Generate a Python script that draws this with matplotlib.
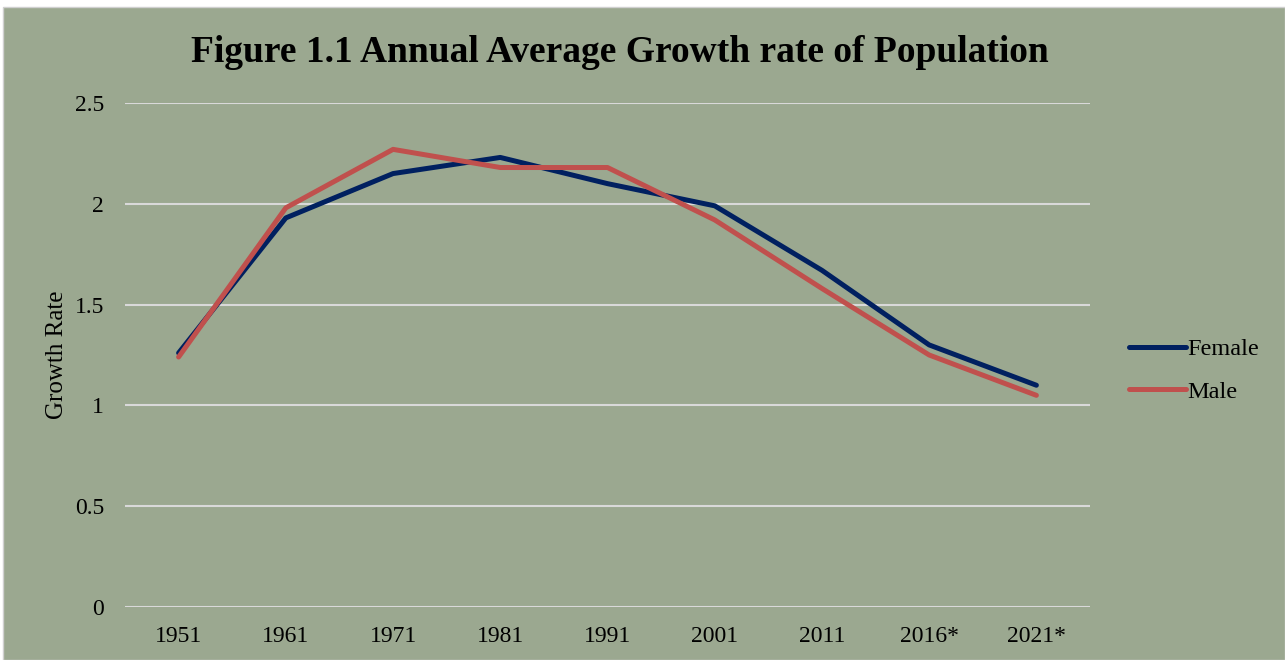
import matplotlib
matplotlib.use("Agg")
import matplotlib.pyplot as plt
from matplotlib.patches import Rectangle

# data
years = ["1951", "1961", "1971", "1981", "1991", "2001", "2011", "2016*", "2021*"]
female = [1.26, 1.93, 2.15, 2.23, 2.10, 1.99, 1.67, 1.30, 1.10]
male = [1.24, 1.98, 2.27, 2.18, 2.18, 1.92, 1.58, 1.25, 1.05]
yticks = [0, 0.5, 1, 1.5, 2, 2.5]
ytick_labels = ["0", "0.5", "1", "1.5", "2", "2.5"]

bg = "#9BA890"
serif = ["Liberation Serif", "DejaVu Serif"]

fig = plt.figure(figsize=(12.85, 6.6), dpi=100)
fig.patch.set_facecolor("white")

# chart area (green panel with white margin top/left)
fig.patches.append(Rectangle((3 / 1285, 0), 1 - 3 / 1285, 1 - 7 / 660,
                             transform=fig.transFigure, facecolor=bg,
                             edgecolor="#D0D0D0", linewidth=1, zorder=-10))

ax = fig.add_axes([125 / 1285, 1 - 607 / 660, 965 / 1285, 504 / 660])
ax.patch.set_alpha(0)

x = list(range(len(years)))
ax.plot(x, female, color="#002060", linewidth=3.6, label="Female",
        solid_capstyle="round", solid_joinstyle="round", zorder=3)
ax.plot(x, male, color="#C0504D", linewidth=3.6, label="Male",
        solid_capstyle="round", solid_joinstyle="round", zorder=4)

ax.set_xlim(-0.5, len(years) - 0.5)
ax.set_ylim(0, 2.5)
ax.set_xticks(x)
ax.set_xticklabels(years, fontfamily=serif, fontsize=17)
ax.set_yticks(yticks)
ax.set_yticklabels(ytick_labels, fontfamily=serif, fontsize=17)
ax.tick_params(axis="x", length=0, pad=14)
ax.tick_params(axis="y", length=0, pad=15)
ax.yaxis.grid(True, color="#D9D9D9", linewidth=1.5)
ax.set_axisbelow(True)
for s in ax.spines.values():
    s.set_visible(False)

ax.set_ylabel("Growth Rate", fontfamily=serif, fontsize=18)
ax.yaxis.set_label_coords(-0.059, 0.5)

fig.text(620 / 1285, 1 - 52 / 660, "Figure 1.1 Annual Average Growth rate of Population",
         ha="center", va="center", fontfamily=serif, fontsize=27, fontweight="bold")

ax.legend(loc="center left", bbox_to_anchor=(1.040, 0.469), frameon=False,
          prop={"family": serif, "size": 17.5}, handlelength=2.35, handletextpad=0.08,
          labelspacing=0.85, borderpad=0, borderaxespad=0)

fig.savefig("out.png", dpi=100, facecolor=fig.get_facecolor())
